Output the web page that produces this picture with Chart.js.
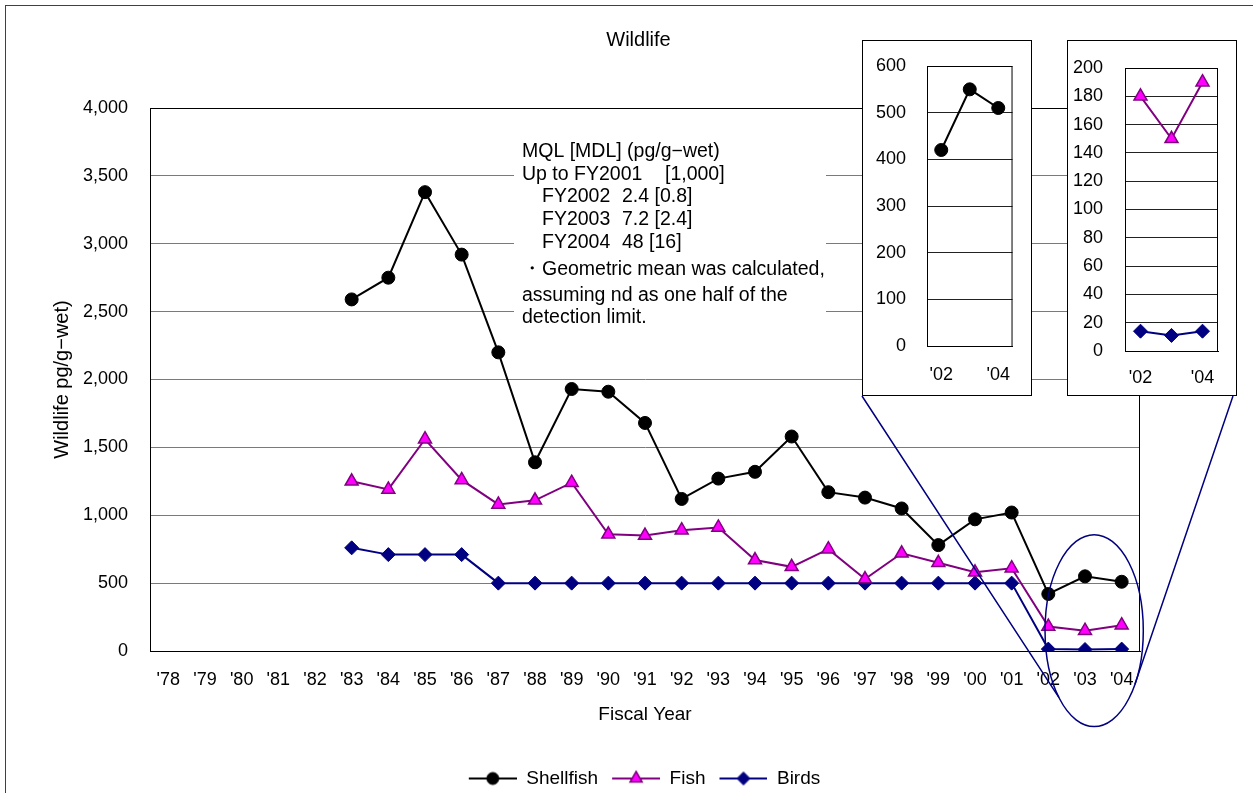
<!DOCTYPE html>
<html>
<head>
<meta charset="utf-8">
<title>Wildlife</title>
<script src="https://cdn.jsdelivr.net/npm/chart.js@4.4.1/dist/chart.umd.min.js"></script>
<style>
  html, body { margin: 0; padding: 0; background: #fff; overflow: hidden; }
  #wrap { position: relative; width: 1253px; height: 793px; }
  #main { position: absolute; left: 0; top: 0; }
  .frame { position: absolute; left: 5px; top: 5px; width: 1270px; height: 820px; border: 1.5px solid #404040; pointer-events: none; }
  .inset { position: absolute; top: 40px; width: 168px; height: 354px; border: 1px solid #000; background: #fff; }
  .inset canvas { display: block; }
  #inset1 { left: 862px; }
  #inset2 { left: 1067px; }
</style>
</head>
<body>
<div id="wrap">
  <canvas id="main" width="1253" height="793"></canvas>
  <div class="inset" id="inset1"><canvas id="c1" width="168" height="354"></canvas></div>
  <div class="inset" id="inset2"><canvas id="c2" width="168" height="354"></canvas></div>
  <div class="frame"></div>
</div>
<script>
// === Data ===
const years = ["'78", "'79", "'80", "'81", "'82", "'83", "'84", "'85", "'86", "'87", "'88", "'89", "'90",
  "'91", "'92", "'93", "'94", "'95", "'96", "'97", "'98", "'99", "'00", "'01", "'02", "'03", "'04"];
const shellfish = [null, null, null, null, null, 2590, 2750, 3380, 2920, 2200, 1390, 1930, 1910,
  1680, 1120, 1270, 1320, 1580, 1170, 1130, 1050, 780, 970, 1020, 420, 550, 510];
const fish = [null, null, null, null, null, 1250, 1190, 1560, 1260, 1080, 1110, 1240, 860,
  850, 890, 910, 670, 620, 750, 530, 720, 650, 580, 610, 180, 150, 190];
const birds = [null, null, null, null, null, 760, 710, 710, 710, 500, 500, 500, 500,
  500, 500, 500, 500, 500, 500, 500, 500, 500, 500, 500, 14, 11, 14];

// recent years shown in the two zoom boxes
const recentYears = years.slice(-3);
const recentTicks = ["'02", "", "'04"];

const noteLines = [
  [["MQL [MDL] (pg/g\u2212wet)", 0]],
  [["Up to FY2001", 0], ["[1,000]", 143]],
  [["FY2002", 20], ["2.4 [0.8]", 100]],
  [["FY2003", 20], ["7.2 [2.4]", 100]],
  [["FY2004", 20], ["48 [16]", 100]],
  [["\u30FBGeometric mean was calculated,", 0]],
  [["assuming nd as one half of the", 0]],
  [["detection limit.", 0]]
];

const FONT = "'Liberation Sans', Arial, sans-serif";
Chart.defaults.font.family = FONT;
Chart.defaults.color = '#000';

// === Series styles ===
const styles = {
  Shellfish: { borderColor: '#000', backgroundColor: '#000', pointBorderColor: '#000', pointStyle: 'circle', pointRadius: 6.5, pointBorderWidth: 1 },
  Fish: { borderColor: '#800080', backgroundColor: '#ff00ff', pointBorderColor: '#800080', pointStyle: 'triangle', pointRadius: 7.5, pointBorderWidth: 1.5 },
  Birds: { borderColor: '#000080', backgroundColor: '#000080', pointBorderColor: '#000080', pointStyle: 'rectRot', pointRadius: 7, pointBorderWidth: 1 }
};

function series(label, data) {
  return Object.assign({ label, data, borderWidth: 2, fill: false, tension: 0, pointHoverRadius: 7 }, styles[label]);
}

// legend swatch: line with marker
function swatch(label) {
  const s = styles[label];
  const c = document.createElement('canvas');
  c.width = 60; c.height = 18;
  const g = c.getContext('2d');
  g.strokeStyle = s.borderColor;
  g.lineWidth = 2;
  g.beginPath(); g.moveTo(12, 9); g.lineTo(60, 9); g.stroke();
  g.fillStyle = s.backgroundColor;
  g.strokeStyle = s.pointBorderColor;
  g.lineWidth = s.pointBorderWidth;
  Chart.helpers.drawPoint(g, { pointStyle: s.pointStyle, radius: s.pointRadius - 0.5, borderWidth: s.pointBorderWidth }, 36, 9);
  return c;
}

// === Decorations on the main chart ===
const ring = { index: 25.25, value: 150, halfCats: 1.34, halfValue: 707 };

const mainDecor = {
  id: 'mainDecor',
  beforeDatasetsDraw(chart) {
    const { ctx, chartArea: a } = chart;
    ctx.save();
    ctx.fillStyle = '#fff';
    ctx.fillRect(a.left + 364, a.top + 30, 312, 192);
    ctx.fillStyle = '#000';
    ctx.font = "19.5px " + FONT;
    ctx.textBaseline = 'middle';
    const ys = [44, 67, 89, 112, 135, 162, 188, 210];
    noteLines.forEach((line, i) => {
      line.forEach(([txt, dx]) => ctx.fillText(txt, a.left + 372 + dx, a.top + ys[i]));
    });
    ctx.restore();
  },
  afterDatasetsDraw(chart) {
    const { ctx, chartArea: a, scales: { x, y } } = chart;
    ctx.save();
    ctx.strokeStyle = '#000';
    ctx.lineWidth = 1;
    ctx.strokeRect(a.left + 0.5, a.top + 0.5, a.width - 1, a.height);

    // zoom ring round the last three years
    const x0 = x.getPixelForValue(Math.floor(ring.index));
    const cw = x.getPixelForValue(Math.floor(ring.index) + 1) - x0;
    const cx = x0 + (ring.index - Math.floor(ring.index)) * cw;
    const cy = y.getPixelForValue(ring.value);
    const rx = ring.halfCats * cw;
    const ry = y.getPixelForValue(0) - y.getPixelForValue(ring.halfValue);
    ctx.strokeStyle = '#000080';
    ctx.lineWidth = 1.5;
    ctx.beginPath();
    ctx.ellipse(cx, cy, rx, ry, 0, 0, Math.PI * 2);
    ctx.stroke();

    // connectors to the zoom boxes
    const wrap = document.getElementById('wrap').getBoundingClientRect();
    const b1 = document.getElementById('inset1').getBoundingClientRect();
    const b2 = document.getElementById('inset2').getBoundingClientRect();
    const t1 = 135.7 * Math.PI / 180, t2 = 34 * Math.PI / 180;
    ctx.beginPath();
    ctx.moveTo(b1.left - wrap.left, b1.bottom - wrap.top);
    ctx.lineTo(cx + rx * Math.cos(t1), cy + ry * Math.sin(t1));
    ctx.moveTo(b2.right - wrap.left - 4, b2.bottom - wrap.top);
    ctx.lineTo(cx + rx * Math.cos(t2), cy + ry * Math.sin(t2));
    ctx.stroke();
    ctx.restore();
  }
};

// === Main chart ===
const mainChart = new Chart(document.getElementById('main'), {
  type: 'line',
  data: {
    labels: years,
    datasets: [series('Shellfish', shellfish), series('Fish', fish), series('Birds', birds)]
  },
  options: {
    responsive: false,
    animation: false,
    layout: { padding: { left: 24, right: 0, top: 0, bottom: -5 } },
    plugins: {
      title: {
        display: true, text: 'Wildlife', color: '#000',
        font: { size: 20, weight: 'normal' },
        padding: { top: 28, bottom: 56 }
      },
      legend: {
        position: 'bottom',
        labels: {
          usePointStyle: true,
          pointStyleWidth: 60,
          padding: 2,
          color: '#000',
          font: { size: 19 },
          generateLabels(chart) {
            return chart.data.datasets.map((ds, i) => ({
              text: ds.label, pointStyle: swatch(ds.label), datasetIndex: i,
              fillStyle: ds.backgroundColor, strokeStyle: ds.borderColor, lineWidth: 0, hidden: false, fontColor: '#000'
            }));
          }
        }
      },
      tooltip: { enabled: false }
    },
    scales: {
      x: {
        offset: true,
        grid: { display: false, drawTicks: false },
        border: { color: '#000', width: 1 },
        ticks: { autoSkip: false, maxRotation: 0, padding: 18, font: { family: "'Liberation Sans Narrow', 'Liberation Sans', sans-serif", size: 18 } },
        title: { display: true, text: 'Fiscal Year', font: { size: 19 }, padding: { top: 4, bottom: 41 } },
        afterFit(s) { s.height = 116; }
      },
      y: {
        min: 0, max: 4000,
        grid: { color: '#7a7a7a', lineWidth: 1, drawTicks: false },
        border: { color: '#000', width: 1 },
        ticks: { stepSize: 500, padding: 22, font: { size: 18 }, callback: v => v.toLocaleString('en-US') },
        title: { display: true, text: 'Wildlife pg/g\u2212wet)', font: { size: 20 }, padding: { top: 26, bottom: 4 } },
        afterFit(s) { s.width = 126; }
      },
      spare: {
        position: 'right', min: 0, max: 1,
        grid: { display: false, drawTicks: false }, border: { display: false },
        ticks: { display: false },
        afterFit(s) { s.width = 113; }
      }
    }
  },
  plugins: [mainDecor]
});

// === Zoom boxes ===
const plotFrame = {
  id: 'plotFrame',
  afterDatasetsDraw(chart) {
    const { ctx, chartArea: a } = chart;
    ctx.save();
    ctx.strokeStyle = '#000';
    ctx.lineWidth = 1;
    ctx.strokeRect(a.left + 0.5, a.top + 0.5, a.width - 1, a.height);
    ctx.restore();
  }
};

function makeInset(canvasId, datasets, yMax, yStep, box) {
  return new Chart(document.getElementById(canvasId), {
    type: 'line',
    data: { labels: recentYears, datasets },
    options: {
      responsive: false,
      animation: false,
      layout: { padding: { left: 0, right: box.right, top: box.top, bottom: 0 } },
      plugins: { legend: { display: false }, title: { display: false }, tooltip: { enabled: false } },
      scales: {
        x: {
          offset: true,
          grid: { display: false, drawTicks: false },
          border: { color: '#000' },
          ticks: { autoSkip: false, maxRotation: 0, padding: box.xPad, font: { size: 18 }, callback: (v, i) => recentTicks[i] },
          afterFit(s) { s.height = box.bottom; }
        },
        y: {
          min: 0, max: yMax,
          grid: { color: '#222', drawTicks: false },
          border: { color: '#000' },
          ticks: { stepSize: yStep, padding: box.yPad, font: { size: 18 } },
          afterFit(s) { s.width = box.left; s.paddingTop = 0; s.paddingBottom = 0; }
        }
      }
    },
    plugins: [plotFrame]
  });
}

const inset1 = makeInset('c1', [series('Shellfish', shellfish.slice(-3))], 600, 100,
  { left: 64, right: 18, top: 25, bottom: 49, xPad: 18, yPad: 21 });
const inset2 = makeInset('c2', [series('Fish', fish.slice(-3)), series('Birds', birds.slice(-3))], 200, 20,
  { left: 57, right: 18, top: 27, bottom: 44, xPad: 16, yPad: 22 });
</script>
</body>
</html>
